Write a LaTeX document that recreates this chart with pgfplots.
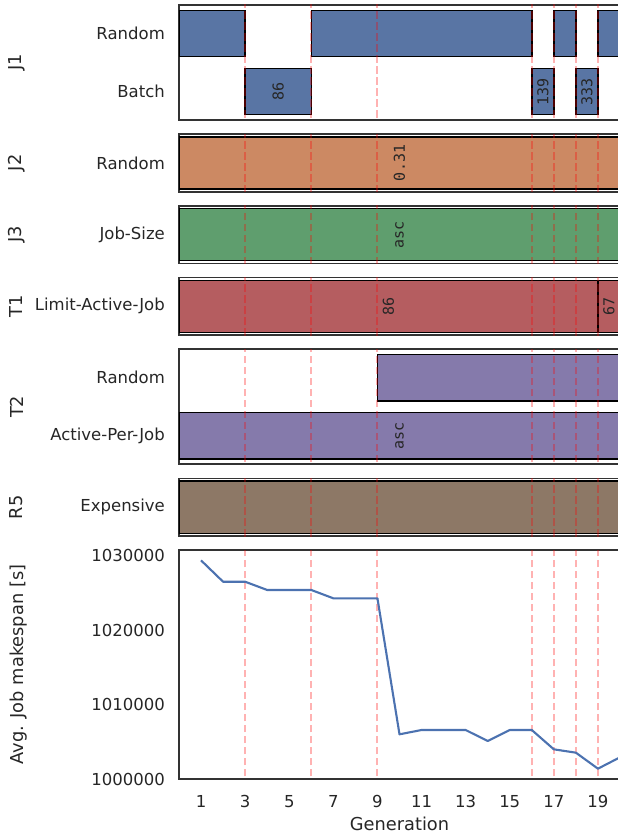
\documentclass[border=0pt]{standalone}
\usepackage{fontspec}
\setmainfont{DejaVu Sans}
\newfontfamily\monofont{DejaVu Sans Mono}
\usepackage{pgfplots}
\pgfplotsset{compat=1.18}
\definecolor{cA}{HTML}{5975A4}
\definecolor{cB}{HTML}{CC8963}
\definecolor{cC}{HTML}{5F9E6E}
\definecolor{cD}{HTML}{B55D60}
\definecolor{cE}{HTML}{857AAB}
\definecolor{cF}{HTML}{8D7866}
\definecolor{txt}{HTML}{262626}
\definecolor{frm}{HTML}{333333}
\definecolor{lineblue}{HTML}{4C72B0}
\newcommand\tickfont{\fontsize{16.5}{19.8}\selectfont}
\newcommand\labfont{\fontsize{17.8}{21}\selectfont}
\newcommand\barfont{\monofont\fontsize{15}{18}\selectfont}
\pgfplotsset{
  base/.style={scale only axis, width=441pt, xmin=0, xmax=20, anchor=north west,
    enlargelimits=false, no markers,
    axis line style={draw=frm, line width=1.7pt},
    major tick length=0pt, tick style={draw=none},
    tick label style={font=\tickfont, text=txt},
    yticklabel style={anchor=east, inner sep=0pt, xshift=-14pt},
    every axis y label/.style={at={(axis description cs:-0.3685,0.5)}, rotate=90, anchor=center, font=\labfont, text=txt},
    /pgf/number format/assume math mode=true},
  panel/.style={base, xtick=\empty},
  single/.style={panel, height=57.5pt, ymin=-0.44, ymax=0.44, ytick={0}},
  double/.style={panel, height=115pt, ymin=-0.49, ymax=1.49, ytick={0,1}},
  bar/.style={draw=black, line width=1.4pt, fill=#1},
  vl/.style={draw=red, opacity=0.3, line width=2pt, dash pattern=on 7.7pt off 3.3pt},
}
\newcommand\vlines[2]{\pgfplotsinvokeforeach{3,6,9,16,17,18,19}{\addplot[vl] coordinates {(##1,#1) (##1,#2)};}}
\begin{document}
\begin{tikzpicture}
\path[use as bounding box] (0,0) rectangle (618pt,-835pt);
\clip (0,0) rectangle (618pt,-835pt);

% J1
\begin{axis}[double, at={(179pt,-5pt)}, yticklabels={Batch,Random}, ylabel={J1}]
\addplot[bar=cA] coordinates {(0,0.6) (3,0.6) (3,1.4) (0,1.4)} -- cycle;
\addplot[bar=cA] coordinates {(6,0.6) (16,0.6) (16,1.4) (6,1.4)} -- cycle;
\addplot[bar=cA] coordinates {(17,0.6) (18,0.6) (18,1.4) (17,1.4)} -- cycle;
\addplot[bar=cA] coordinates {(19,0.6) (20,0.6) (20,1.4) (19,1.4)} -- cycle;
\addplot[bar=cA] coordinates {(3,-0.4) (6,-0.4) (6,0.4) (3,0.4)} -- cycle;
\addplot[bar=cA] coordinates {(16,-0.4) (17,-0.4) (17,0.4) (16,0.4)} -- cycle;
\addplot[bar=cA] coordinates {(18,-0.4) (19,-0.4) (19,0.4) (18,0.4)} -- cycle;
\vlines{-5}{5}
\node[rotate=90, font=\barfont, text=txt] at (axis cs:4.5,0) {86};
\node[rotate=90, font=\barfont, text=txt] at (axis cs:16.5,0) {139};
\node[rotate=90, font=\barfont, text=txt] at (axis cs:18.5,0) {333};
\end{axis}

% J2
\begin{axis}[single, at={(179pt,-134.2pt)}, yticklabels={Random}, ylabel={J2}]
\addplot[bar=cB] coordinates {(0,-0.4) (20,-0.4) (20,0.4) (0,0.4)} -- cycle;
\vlines{-5}{5}
\node[rotate=90, font=\barfont, text=txt] at (axis cs:10,0) {0.31};
\end{axis}

% J3
\begin{axis}[single, at={(179pt,-205.9pt)}, yticklabels={Job-Size}, ylabel={J3}]
\addplot[bar=cC] coordinates {(0,-0.4) (20,-0.4) (20,0.4) (0,0.4)} -- cycle;
\vlines{-5}{5}
\node[rotate=90, font=\barfont, text=txt] at (axis cs:10,0) {asc};
\end{axis}

% T1
\begin{axis}[single, at={(179pt,-277.6pt)}, yticklabels={Limit-Active-Job}, ylabel={T1}]
\addplot[bar=cD] coordinates {(0,-0.4) (19,-0.4) (19,0.4) (0,0.4)} -- cycle;
\addplot[bar=cD] coordinates {(19,-0.4) (20,-0.4) (20,0.4) (19,0.4)} -- cycle;
\vlines{-5}{5}
\node[rotate=90, font=\barfont, text=txt] at (axis cs:9.5,0) {86};
\node[rotate=90, font=\barfont, text=txt] at (axis cs:19.5,0) {67};
\end{axis}

% T2
\begin{axis}[double, at={(179pt,-349.3pt)}, yticklabels={Active-Per-Job,Random}, ylabel={T2}]
\addplot[bar=cE] coordinates {(9,0.6) (20,0.6) (20,1.4) (9,1.4)} -- cycle;
\addplot[bar=cE] coordinates {(0,-0.4) (20,-0.4) (20,0.4) (0,0.4)} -- cycle;
\vlines{-5}{5}
\node[rotate=90, font=\barfont, text=txt] at (axis cs:10,0) {asc};
\end{axis}

% R5
\begin{axis}[single, at={(179pt,-478.5pt)}, yticklabels={Expensive}, ylabel={R5}]
\addplot[bar=cF] coordinates {(0,-0.4) (20,-0.4) (20,0.4) (0,0.4)} -- cycle;
\vlines{-5}{5}
\end{axis}

% line plot
\begin{axis}[base, at={(179pt,-550.2pt)}, height=228.8pt,
  ymin=1000000, ymax=1030770,
  xtick={1,3,...,19},
  ytick={1000000,1010000,1020000,1030000},
  scaled y ticks=false,
  /pgf/number format/1000 sep={},
  /pgf/number format/fixed,
  xticklabel style={anchor=north, inner sep=0pt, yshift=-16pt},
  xlabel={Generation}, ylabel={Avg. Job makespan [s]},
  every axis x label/.style={at={(axis description cs:0.5,0)}, anchor=north, inner sep=0pt, yshift=-38pt, font=\labfont, text=txt},
  every axis y label/.append style={at={(axis description cs:-0.364,0.5)}}]
\vlines{990000}{1040000}
\addplot[draw=lineblue, line width=2.1pt, line join=round] coordinates {
(1,1029400) (2,1026530) (3,1026530) (4,1025420) (5,1025420) (6,1025420)
(7,1024300) (8,1024300) (9,1024300) (10,1006010) (11,1006590) (12,1006590)
(13,1006590) (14,1005110) (15,1006590) (16,1006590) (17,1003990) (18,1003540)
(19,1001390) (20,1002920)};
\end{axis}
\end{tikzpicture}
\end{document}
